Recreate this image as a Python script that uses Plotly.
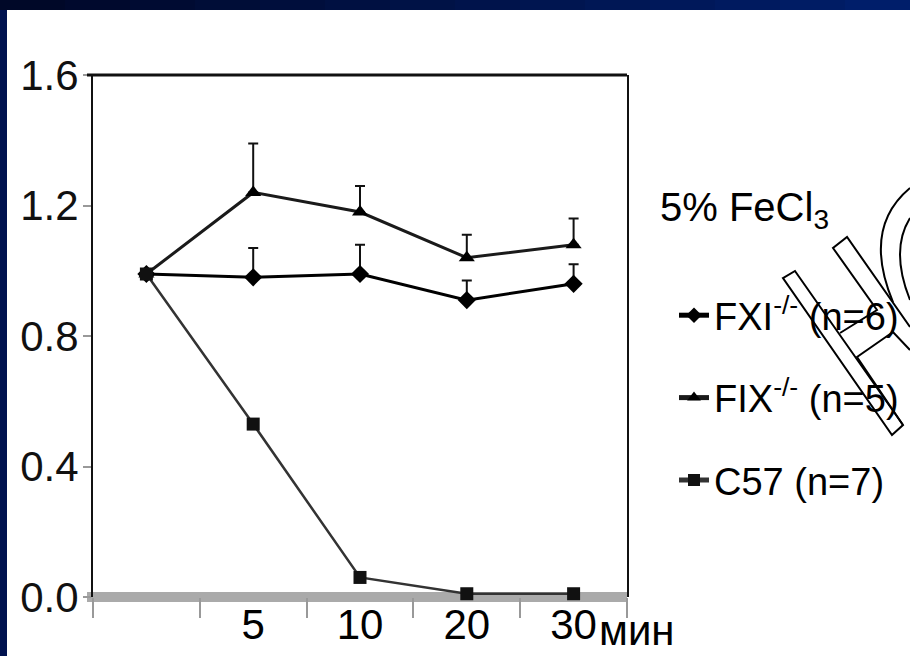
import plotly.graph_objects as go

# ---------------- data ----------------
time_cats = ["0", "5", "10", "20", "30"]
time_labels = ["", "5", "10", "20", "30"]

fxi_vals = [0.99, 0.98, 0.99, 0.91, 0.96]
fxi_err = [0.0, 0.09, 0.09, 0.06, 0.06]

fix_vals = [0.99, 1.24, 1.18, 1.04, 1.08]
fix_err = [0.0, 0.15, 0.08, 0.07, 0.08]

c57_vals = [0.99, 0.53, 0.06, 0.01, 0.01]

y_ticks = [0.0, 0.4, 0.8, 1.2, 1.6]
y_ticktext = ["0.0", "0.4", "0.8", "1.2", "1.6"]

series_names = ["FXI<sup>-/-</sup> (n=6)", "FIX<sup>-/-</sup> (n=5)", "C57 (n=7)"]
legend_title = "5% FeCl<sub>3</sub>"
unit_label = "мин"

# ---------------- layout geometry ----------------
W, H = 910, 656
PL, PR, PT, PB = 93, 627, 75, 597   # plot area pixel box


def pp(x, y):
    """pixel -> paper coordinates (paper spans whole figure, margins are 0)"""
    return x / W, (H - y) / H


FONT = "Liberation Sans, Arial, sans-serif"

fig = go.Figure()

fig.add_trace(go.Scatter(
    x=time_cats, y=fxi_vals, name=series_names[0], mode="lines+markers",
    line=dict(color="#000000", width=3),
    marker=dict(symbol="diamond", size=14, color="#000000"),
    error_y=dict(type="data", array=fxi_err, arrayminus=[0] * 5, symmetric=False,
                 color="#111111", thickness=2, width=5),
    cliponaxis=False, legendgroup="a",
))
fig.add_trace(go.Scatter(
    x=time_cats, y=fix_vals, name=series_names[1], mode="lines+markers",
    line=dict(color="#1a1a1a", width=3),
    marker=dict(symbol="triangle-up", size=14, color="#000000"),
    error_y=dict(type="data", array=fix_err, arrayminus=[0] * 5, symmetric=False,
                 color="#111111", thickness=2, width=5),
    cliponaxis=False, legendgroup="b",
))
fig.add_trace(go.Scatter(
    x=time_cats, y=c57_vals, name=series_names[2], mode="lines+markers",
    line=dict(color="#333333", width=2.5),
    marker=dict(symbol="square", size=13, color="#111111"),
    cliponaxis=False, legendgroup="c",
))

shapes = []
# white slide area
x0, y0 = pp(7, 10)
x1, y1 = pp(W, H)
shapes.append(dict(type="rect", xref="paper", yref="paper", x0=x0, y0=y1, x1=x1, y1=y0,
                   fillcolor="#ffffff", line=dict(width=0), layer="below"))
# gradient top band
nstrip = 14
for i in range(nstrip):
    t = i / (nstrip - 1)
    g = int(8 + t * 22)
    b = int(40 + t * 66)
    sx0, sy0 = pp(i * W / nstrip, 0)
    sx1, sy1 = pp((i + 1) * W / nstrip + 1, 10)
    shapes.append(dict(type="rect", xref="paper", yref="paper", x0=sx0, y0=sy1, x1=sx1, y1=sy0,
                       fillcolor=f"rgb(0,{g},{b})", line=dict(width=0), layer="below"))
# gray x-axis band at 0
bx0, by = pp(87, PB)
bx1, _ = pp(PR, PB)
shapes.append(dict(type="line", xref="paper", yref="paper", x0=bx0, x1=bx1, y0=by, y1=by,
                   line=dict(color="#aaaaaa", width=10), layer="below"))
# top black frame line
_, ty = pp(0, PT)
shapes.append(dict(type="line", xref="paper", yref="paper", x0=bx0, x1=bx1, y0=ty, y1=ty,
                   line=dict(color="#111111", width=3)))


# watermark outline decoration
def path_from(points, close=True):
    s = ""
    for i, (a, b) in enumerate(points):
        xa, ya = pp(a, b)
        s += ("M" if i == 0 else "L") + f"{xa:.4f},{ya:.4f} "
    if close:
        s += "Z"
    return s


def qpath(p0, c, p1):
    a = pp(*p0)
    b = pp(*c)
    d = pp(*p1)
    return f"M{a[0]:.4f},{a[1]:.4f} Q{b[0]:.4f},{b[1]:.4f} {d[0]:.4f},{d[1]:.4f}"


deco = [
    path_from([(783, 278), (795, 271), (903, 425), (892, 435)]),
    path_from([(840, 333), (877, 310), (833, 248), (847, 237), (910, 327)], close=False),
    path_from([(903, 425), (857, 357), (893, 332), (910, 350)], close=False),
    qpath((893, 302), (862, 228), (910, 188)),
    qpath((910, 300), (890, 250), (910, 218)),
]
for d in deco:
    shapes.append(dict(type="path", xref="paper", yref="paper", path=d,
                       line=dict(color="#000000", width=2)))

mx, my = pp(597, 630)
tx, tyy = pp(658, 210)
annotations = [
    dict(text=unit_label, xref="paper", yref="paper", x=mx, y=my, showarrow=False,
         xanchor="left", yanchor="middle",
         font=dict(family=FONT, size=42, color="#000000")),
    dict(text=legend_title, xref="paper", yref="paper", x=tx, y=tyy, showarrow=False,
         xanchor="left", yanchor="middle",
         font=dict(family=FONT, size=40, color="#000000")),
]

lx, ly = pp(674, 284)

fig.update_layout(
    width=W, height=H,
    margin=dict(l=0, r=0, t=0, b=0, pad=0),
    paper_bgcolor="#00124f",
    plot_bgcolor="rgba(0,0,0,0)",
    shapes=shapes,
    annotations=annotations,
    showlegend=True,
    legend=dict(
        font=dict(family=FONT, size=38, color="#000000"),
        x=lx, y=ly, xanchor="left", yanchor="top",
        bgcolor="rgba(0,0,0,0)", tracegroupgap=30, itemsizing="constant",
    ),
    xaxis=dict(
        domain=[PL / W, PR / W], automargin=False,
        type="category", categoryorder="array", categoryarray=time_cats,
        tickvals=time_cats, ticktext=time_labels, range=[-0.5, 4.5],
        tickson="boundaries", ticks="outside", ticklen=20, tickwidth=2, tickcolor="#999999",
        showline=False, showgrid=False, zeroline=False,
        tickfont=dict(family=FONT, size=42, color="#000000"),
        ticklabelstandoff=-1,
    ),
    yaxis=dict(
        domain=[(H - PB) / H, (H - PT) / H], automargin=False,
        range=[0, 1.6], tickvals=y_ticks, ticktext=y_ticktext,
        ticks="outside", ticklen=8, tickwidth=2, tickcolor="#999999",
        showline=True, linecolor="#111111", linewidth=2, mirror=True,
        showgrid=False, zeroline=False,
        tickfont=dict(family=FONT, size=42, color="#111111"),
        ticklabelstandoff=-4,
    ),
)

fig.write_html("out.html", config={"displayModeBar": False},
               post_script="document.body.style.margin='0px';")
